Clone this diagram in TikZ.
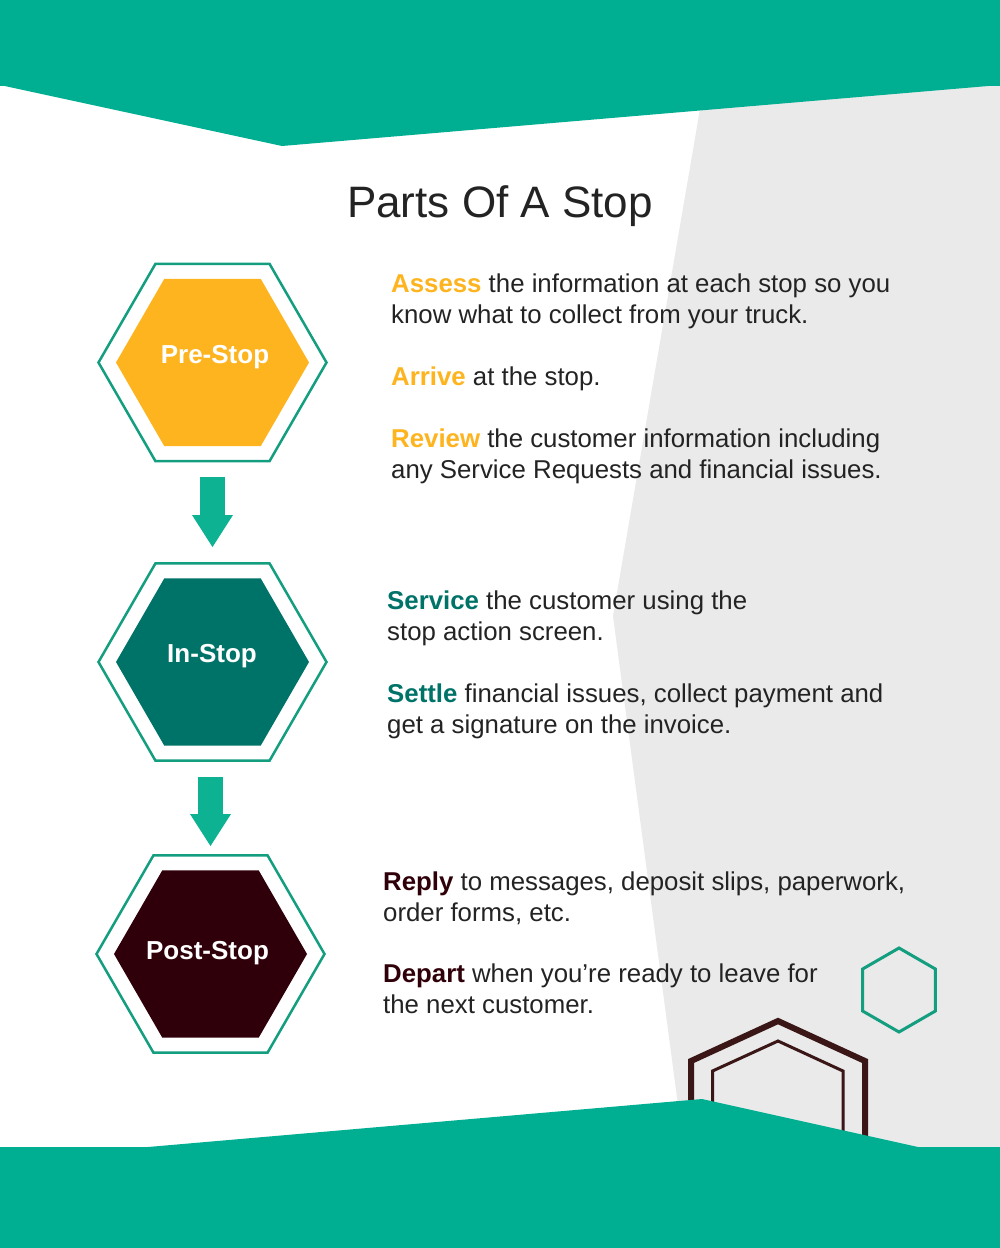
\documentclass[tikz,border=0pt]{standalone}
\usepackage{fontspec}
\setmainfont{Liberation Sans}
\usetikzlibrary{arrows.meta,positioning,shapes.geometric}
\definecolor{bandgrn}{RGB}{0,175,145}
\definecolor{edgegrn}{RGB}{20,158,128}
\definecolor{arrgrn}{RGB}{12,178,146}
\definecolor{preclr}{RGB}{253,180,30}
\definecolor{inclr}{RGB}{0,115,105}
\definecolor{postclr}{RGB}{48,0,10}
\definecolor{backgry}{RGB}{234,234,234}
\definecolor{txtclr}{RGB}{35,35,35}
\definecolor{houseclr}{RGB}{58,22,22}
\tikzset{
  outhex/.style={draw=edgegrn,line width=2.5pt,regular polygon,regular polygon sides=6,minimum size=228pt,inner sep=0pt},
  inhex/.style={regular polygon,regular polygon sides=6,minimum size=193pt,inner sep=0pt},
  hexlbl/.style={text=white,font=\fontsize{26}{30}\selectfont\bfseries,anchor=base,inner sep=0pt},
  para/.style={anchor=base west,align=left,inner sep=0pt,text=txtclr,font=\fontsize{25.8}{31}\selectfont},
  flow/.style={-{Triangle[width=41pt,length=32pt,line width=0pt]},line width=25pt,draw=arrgrn,fill=arrgrn}
}
\newcommand{\kw}[2]{\textcolor{#1}{\bfseries #2}}
\begin{document}
\begin{tikzpicture}[x=1pt,y=-1pt]
  \useasboundingbox (0,0) rectangle (1000,1248);
  % Background panels
  \fill[white] (0,0) rectangle (1000,1248);
  \fill[backgry] (705,80) -- (613,616) -- (684,1150) -- (1000,1150) -- (1000,80) -- cycle;
  \fill[bandgrn] (0,0) rectangle (1000,86);
  \fill[bandgrn] (0,85) -- (282,146) -- (1000,85) -- cycle;

  % House outlines and small hexagon
  \draw[houseclr,line width=6pt] (691,1150) -- (691,1061) -- (778,1021) -- (865,1061) -- (865,1150);
  \draw[houseclr,line width=3pt] (712.5,1150) -- (712.5,1071) -- (778,1041) -- (843,1071) -- (843,1150);
  \node[draw=edgegrn,line width=3pt,regular polygon,regular polygon sides=6,minimum size=84pt,rotate=30] (deco) at (899,990) {};
  \fill[bandgrn] (0,1147) -- (148,1147) -- (702,1099) -- (918,1147) -- (1000,1147) -- (1000,1248) -- (0,1248) -- cycle;

  % Title
  \node[font=\fontsize{44}{50}\selectfont,text=txtclr,anchor=base] (title) at (500,217) {Parts Of A Stop};

  % Stage hexagons
  \foreach \n/\hx/\hy/\clr/\lx/\ly/\txt in {pre/212.5/362.5/preclr/215/363/Pre-Stop,
      instop/212.5/662/inclr/212/662/In-Stop, post/210.5/954/postclr/207.5/959/Post-Stop}{
    \node[outhex] (\n-o) at (\hx,\hy) {};
    \node[inhex,fill=\clr] (\n-i) at (\hx,\hy) {};
    \node[hexlbl] (\n-l) at (\lx,\ly) {\txt};
  }

  % Flow arrows
  \draw[flow,shorten <=14pt,shorten >=15pt] (pre-o.south) -- (instop-o.north);
  \draw[flow,shorten <=15pt,shorten >=8pt] (instop-o.south -| post-o.north) -- (post-o.north);

  % Pre-Stop text (base = last line)
  \node[para] (assess) at (391,323) {\kw{preclr}{Assess} the information at each stop so you\\know what to collect from your truck.};
  \node[para] (arrive) at (391,385) {\kw{preclr}{Arrive} at the stop.};
  \node[para] (review) at (391,478) {\kw{preclr}{Review} the customer information including\\any Service Requests and financial issues.};

  % In-Stop text
  \node[para] (service) at (387,640) {\kw{inclr}{Service} the customer using the\\stop action screen.};
  \node[para] (settle) at (387,733) {\kw{inclr}{Settle} financial issues, collect payment and\\get a signature on the invoice.};

  % Post-Stop text
  \node[para] (reply) at (383,921) {\kw{postclr}{Reply} to messages, deposit slips, paperwork,\\order forms, etc.};
  \node[para] (depart) at (383,1013) {\kw{postclr}{Depart} when you’re ready to leave for\\the next customer.};
\end{tikzpicture}
\end{document}
